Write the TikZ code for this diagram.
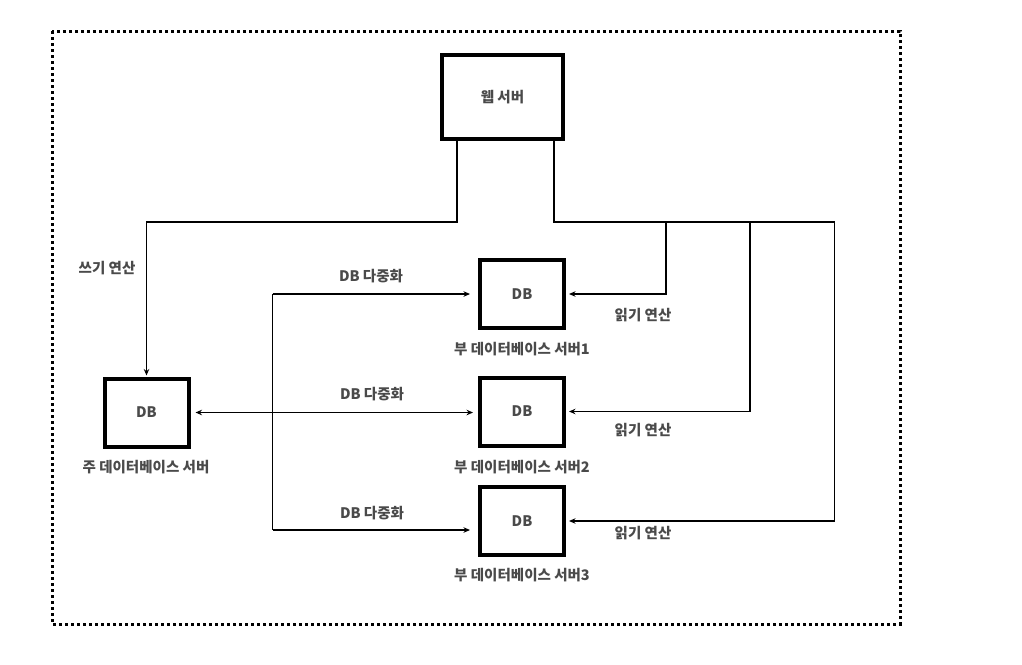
\documentclass[tikz,border=0pt]{standalone}
\usepackage{fontspec}
\setmainfont{Noto Sans CJK KR}
\usetikzlibrary{arrows.meta}
\begin{document}
\begin{tikzpicture}[x=1pt,y=-1pt,
  box/.style={draw=black,line width=4pt,fill=white,inner sep=0pt,
    minimum width=84pt,minimum height=68pt,font=\bfseries\fontsize{14.5}{16}\selectfont,text=txtgray},
  lbl/.style={font=\bfseries\fontsize{14.5}{16}\selectfont,text=txtgray,inner sep=1pt},
  conn/.style={line width=1.8pt,draw=black},
  arr/.style={conn,-{Stealth[length=6.5pt,width=5.5pt]},shorten >=3pt},
  barr/.style={conn,{Stealth[length=6.5pt,width=5.5pt]}-{Stealth[length=6.5pt,width=5.5pt]},shorten >=5pt,shorten <=5pt},
  frame/.style={line width=3pt,dash pattern=on 3pt off 3pt}
]
\definecolor{txtgray}{HTML}{4A4A4A}
\useasboundingbox (0,0) rectangle (1022,664);
\draw[frame] (52,31) rectangle (900,624);

\node[box,minimum width=121pt,minimum height=84pt] (web) at (502.5,97) {웹 서버};
\node[box] (pdb) at (146.5,412.5) {DB};
\node[box] (db1) at (522,294) {DB};
\node[box] (db2) at (522,411.5) {DB};
\node[box] (db3) at (522,521) {DB};

\node[lbl] (lp) at (146,467) {주 데이터베이스 서버};
\node[lbl] (l1) at (522,349) {부 데이터베이스 서버1};
\node[lbl] (l2) at (522,467) {부 데이터베이스 서버2};
\node[lbl] (l3) at (522,575) {부 데이터베이스 서버3};

% write path
\coordinate (wl) at (457,222);
\draw[arr,shorten >=1pt] (wl |- web.south) -- (wl) -| (pdb.north);
\node[lbl] (lw) at (107,268) {쓰기 연산};

% read paths
\coordinate (wr) at (554,222);
\coordinate (re) at (835,222);
\coordinate (r1) at (666,222);
\coordinate (r2) at (750,222);
\coordinate (r3) at (834.5,222);
\draw[conn] (wr |- web.south) -- (wr) -- (re);
\draw[arr] (r1) |- (db1.east);
\draw[arr] (r2) |- (db2.east);
\draw[arr] (r3) |- (db3.east);
\node[lbl] (lr1) at (643,315) {읽기 연산};
\node[lbl] (lr2) at (643,430) {읽기 연산};
\node[lbl] (lr3) at (643,533) {읽기 연산};

% replication
\coordinate (vt) at (272.5,294);
\coordinate (vb) at (272.5,530);
\draw[conn] (vt) -- (vb);
\draw[arr,shorten >=8pt] (vt) -- (vt -| db1.west);
\draw[arr,shorten >=8pt] (vb) -- (vb -| db3.west);
\draw[barr] (pdb.east) -- (pdb.east -| db2.west);
\node[lbl] (ld1) at (371,276) {DB 다중화};
\node[lbl] (ld2) at (372,394) {DB 다중화};
\node[lbl] (ld3) at (372,513) {DB 다중화};
\end{tikzpicture}
\end{document}
